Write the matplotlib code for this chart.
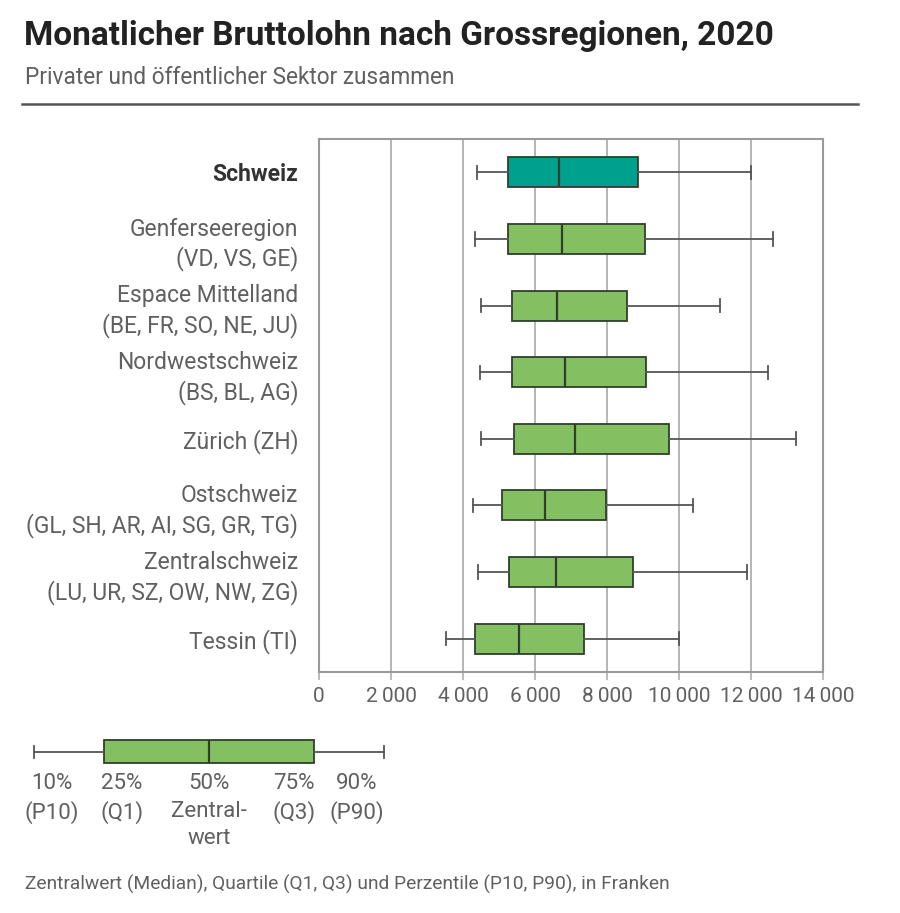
import matplotlib
matplotlib.use("Agg")
import matplotlib.pyplot as plt
from matplotlib.ticker import FuncFormatter

plt.rcParams['font.family'] = ['Roboto', 'DejaVu Sans']

# ---------------- data ----------------
regions = [
    "Schweiz",
    "Genferseeregion\n(VD, VS, GE)",
    "Espace Mittelland\n(BE, FR, SO, NE, JU)",
    "Nordwestschweiz\n(BS, BL, AG)",
    "Zürich (ZH)",
    "Ostschweiz\n(GL, SH, AR, AI, SG, GR, TG)",
    "Zentralschweiz\n(LU, UR, SZ, OW, NW, ZG)",
    "Tessin (TI)",
]
p10 = [4390, 4330, 4510, 4480, 4510, 4270, 4430, 3540]
q1 = [5260, 5260, 5350, 5370, 5410, 5080, 5270, 4320]
median = [6680, 6750, 6610, 6820, 7110, 6290, 6590, 5550]
q3 = [8870, 9050, 8550, 9090, 9720, 7980, 8730, 7370]
p90 = [11990, 12600, 11140, 12460, 13240, 10390, 11880, 10000]

x_ticks = [0, 2000, 4000, 6000, 8000, 10000, 12000, 14000]

legend_values = [0, 2, 5, 8, 10]  # schematic P10, Q1, median, Q3, P90
legend_labels = ["10%\n(P10)", "25%\n(Q1)", "50%\nZentral-\nwert", "75%\n(Q3)", "90%\n(P90)"]

title = "Monatlicher Bruttolohn nach Grossregionen, 2020"
subtitle = "Privater und öffentlicher Sektor zusammen"
footnote = "Zentralwert (Median), Quartile (Q1, Q3) und Perzentile (P10, P90), in Franken"

# ---------------- style ----------------
TEAL = "#00a08e"
GREEN = "#84c062"
EDGE = "#2f3f2c"
GRID = "#b0b0b0"
TXT = "#606060"

W, H = 900, 913
fig = plt.figure(figsize=(W / 100, H / 100), dpi=100)


def fx(px):
    return px / W


def fy(py):
    return 1 - py / H


# header
fig.text(fx(24), fy(36), title, fontsize=24, fontweight='bold', color="#222222",
         ha='left', va='center')
fig.text(fx(25), fy(77), subtitle, fontsize=16.3, color=TXT, ha='left', va='center')
fig.add_artist(plt.Line2D([fx(22), fx(858)], [fy(104), fy(104)], color="#555555", lw=1.8))

# main axes
ax = fig.add_axes([fx(319), fy(672), fx(823 - 319), (672 - 139) / H])
n = len(regions)
stats = []
for i in range(n):
    stats.append(dict(whislo=p10[i], q1=q1[i], med=median[i], q3=q3[i], whishi=p90[i],
                      fliers=[], label=regions[i]))
positions = list(range(n - 1, -1, -1))
bp = ax.bxp(stats, positions=positions, vert=False, widths=0.45, capwidths=0.2,
            patch_artist=True, showfliers=False,
            boxprops=dict(edgecolor=EDGE, linewidth=1.3),
            medianprops=dict(color=EDGE, linewidth=1.6),
            whiskerprops=dict(color="#555555", linewidth=1.3),
            capprops=dict(color="#555555", linewidth=1.3))
for i, b in enumerate(bp['boxes']):
    b.set_facecolor(TEAL if i == 0 else GREEN)

ax.set_xlim(0, 14000)
ax.set_ylim(-0.5, n - 0.5)
ax.set_xticks(x_ticks)
ax.xaxis.set_major_formatter(FuncFormatter(lambda v, p: f"{int(v):,}".replace(",", "\u2009")))
ax.tick_params(axis='x', length=6, width=1.2, color=GRID, labelsize=15, labelcolor=TXT, pad=5)
ax.set_yticks(positions)
ax.set_yticklabels(regions, fontsize=16.5, color=TXT, linespacing=1.3)
ax.tick_params(axis='y', length=0, pad=15)
for lab in ax.get_yticklabels():
    lab.set_multialignment('right')
ax.get_yticklabels()[0].set_fontweight('bold')
ax.get_yticklabels()[0].set_color("#333333")
ax.grid(axis='x', color=GRID, linewidth=1.3)
ax.set_axisbelow(True)
for s in ax.spines.values():
    s.set_color("#9a9a9a")
    s.set_linewidth(1.5)

# legend axes
lax = fig.add_axes([fx(34), fy(763.5), fx(384 - 34), 24 / H])
lstats = [dict(whislo=legend_values[0], q1=legend_values[1], med=legend_values[2],
               q3=legend_values[3], whishi=legend_values[4], fliers=[])]
lbp = lax.bxp(lstats, positions=[0], vert=False, widths=0.95, capwidths=0.5,
              patch_artist=True, showfliers=False,
              boxprops=dict(edgecolor=EDGE, linewidth=1.3, facecolor=GREEN),
              medianprops=dict(color=EDGE, linewidth=1.6),
              whiskerprops=dict(color="#555555", linewidth=1.3),
              capprops=dict(color="#555555", linewidth=1.3))
lax.set_xlim(legend_values[0], legend_values[-1])
lax.set_ylim(-0.5, 0.5)
lax.axis('off')
for artist in lax.get_children():
    artist.set_clip_on(False)

label_x = [52, 122, 209, 294, 357]
for xp, lab in zip(label_x, legend_labels):
    fig.text(fx(xp), fy(773), lab, fontsize=16, color=TXT, ha='center', va='top',
             linespacing=1.42)

fig.text(fx(25), fy(884), footnote, fontsize=13.8, color=TXT, ha='left', va='center')

fig.savefig("out.png", dpi=100)
